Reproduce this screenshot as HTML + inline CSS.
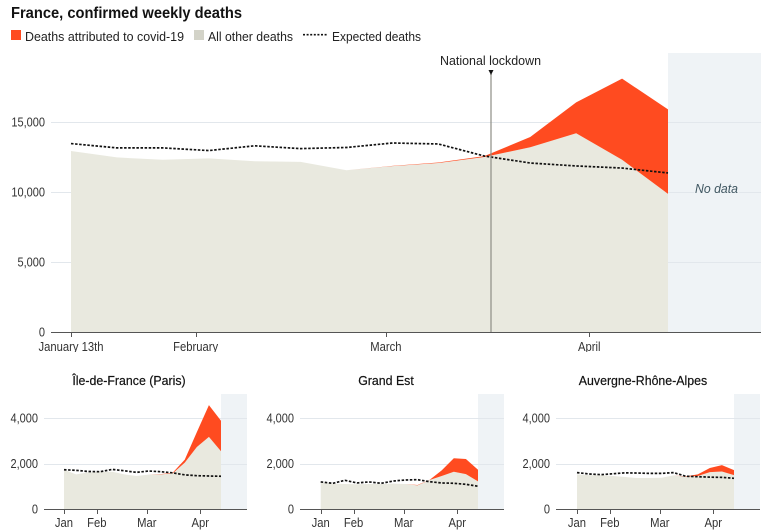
<!DOCTYPE html>
<html>
<head>
<meta charset="utf-8">
<title>France, confirmed weekly deaths</title>
<style>
html,body{margin:0;padding:0;background:#fff;width:772px;height:532px;overflow:hidden}
svg{display:block;font-family:"Liberation Sans",sans-serif}
</style>
</head>
<body>
<svg id="chart" xmlns="http://www.w3.org/2000/svg" width="772" height="532" viewBox="0 0 772 532">
  <defs><clipPath id="main-label-clip"><rect x="0" y="338" width="772" height="14"/></clipPath></defs>
  <text x="11" y="18" font-size="15.5" font-weight="bold" fill="#121212" textLength="231" lengthAdjust="spacingAndGlyphs">France, confirmed weekly deaths</text>
  <rect x="11" y="30" width="10" height="10" fill="#ff4b20"/>
  <text x="25" y="41" font-size="13" fill="#222" textLength="159" lengthAdjust="spacingAndGlyphs">Deaths attributed to covid-19</text>
  <rect x="194" y="30" width="10" height="10" fill="#d3d3c8"/>
  <text x="208" y="41" font-size="13" fill="#222" textLength="85" lengthAdjust="spacingAndGlyphs">All other deaths</text>
  <line x1="303" y1="34.7" x2="328" y2="34.7" stroke="#121212" stroke-width="1.7" stroke-dasharray="2 1.6"/>
  <text x="332" y="41" font-size="13" fill="#222" textLength="89" lengthAdjust="spacingAndGlyphs">Expected deaths</text>
  <g id="panels"></g>
  <rect x="490" y="74" width="2" height="258" fill="#8d8d85" opacity="0.6"/>
  <polygon points="488.5,70 493.5,70 491,75" fill="#121212"/>
  <text x="440" y="65" font-size="13" fill="#222" textLength="101" lengthAdjust="spacingAndGlyphs">National lockdown</text>
  <rect x="694" y="182" width="45" height="14" fill="#eff3f6"/>
  <text x="695" y="193" font-size="13" font-style="italic" fill="#3f5661" textLength="43" lengthAdjust="spacingAndGlyphs">No data</text>
</svg>
<script>
var weeks = 14;

var franceOther = [12930, 12470, 12300, 12400, 12200, 12150, 11550, 11850, 12070, 12500, 13200, 14200, 12300, 9870];
var franceTotal = [12930, 12470, 12300, 12400, 12200, 12150, 11550, 11870, 12110, 12560, 13930, 16400, 18100, 15900];
var franceExpected = [13460, 13150, 13150, 12960, 13300, 13100, 13180, 13500, 13430, 12570, 12070, 11860, 11710, 11360];

var parisOther = [1725, 1520, 1610, 1640, 1640, 1520, 1450, 1510, 1520, 1565, 2040, 2725, 3170, 2540];
var parisTotal = [1725, 1520, 1610, 1640, 1640, 1520, 1450, 1510, 1535, 1595, 2170, 3380, 4565, 3880];
var parisExpected = [1725, 1700, 1650, 1640, 1740, 1680, 1610, 1670, 1640, 1590, 1500, 1465, 1450, 1440];

var grandEstOther = [1170, 1115, 1100, 1090, 1100, 1100, 1115, 1100, 1040, 1275, 1450, 1640, 1535, 1215];
var grandEstTotal = [1170, 1115, 1100, 1090, 1100, 1100, 1115, 1100, 1055, 1280, 1700, 2230, 2200, 1725];
var grandEstExpected = [1190, 1130, 1260, 1145, 1190, 1130, 1230, 1275, 1290, 1200, 1145, 1130, 1085, 1000];

var auvergneOther = [1520, 1490, 1490, 1450, 1405, 1360, 1360, 1375, 1480, 1420, 1450, 1620, 1650, 1490];
var auvergneTotal = [1520, 1490, 1490, 1450, 1405, 1360, 1360, 1375, 1480, 1435, 1520, 1800, 1930, 1710];
var auvergneExpected = [1600, 1540, 1510, 1550, 1590, 1580, 1565, 1565, 1600, 1440, 1420, 1400, 1390, 1350];

var mainYTicks = [0, 5000, 10000, 15000];
var smallYTicks = [0, 2000, 4000];
var mainXTickLabels = ["January 13th", "February", "March", "April"];
var mainXTickDays = [0, 19, 48, 79];
var smallXTickLabels = ["Jan", "Feb", "Mar", "Apr"];
var smallXTickDays = [0, 19, 48, 79];

var NS = "http://www.w3.org/2000/svg";
var root = document.getElementById("panels");

function make(parent, tag, attrs) {
  var el = document.createElementNS(NS, tag);
  for (var k in attrs) el.setAttribute(k, attrs[k]);
  parent.appendChild(el);
  return el;
}

function squeeze(t, ratio) {
  t.setAttribute("textLength", t.getComputedTextLength() * ratio);
  t.setAttribute("lengthAdjust", "spacingAndGlyphs");
}

function drawPanel(cfg) {
  var g = make(root, "g", {});
  
  

  function x(week) { return cfg.x0 + (cfg.x1 - cfg.x0) * week / (weeks - 1); }
  function xDay(day) { return x(day / 7); }
  function y(v) { return cfg.yBase - v * cfg.yScale; }
  function pts(arr) { return arr.map(function (v, i) { return x(i) + "," + y(v); }); }
  function area(arr) { return x(0) + "," + y(0) + " " + pts(arr).join(" ") + " " + x(weeks - 1) + "," + y(0); }

  var noData = make(g, "rect", { x: cfg.x1, y: cfg.top, width: cfg.right - cfg.x1, height: cfg.yBase - cfg.top, fill: "#eff3f6" });
  
  

  cfg.yTicks.forEach(function (v) {
    if (v !== 0) {
      var grid = make(g, "rect", { x: cfg.left, width: cfg.right - cfg.left, y: Math.round(y(v)), height: 1, fill: "#e2e7ec" });
      
      
    }
    var lab = make(g, "text", { x: cfg.left - 6, y: y(v) + 4.5, "text-anchor": "end", "font-size": 12.5, fill: "#333" });
    lab.textContent = v.toLocaleString("en-US");
    
    
    squeeze(lab, 0.88);
  });

  var other = make(g, "polygon", { points: area(cfg.other), fill: "#e9e9df" });
  
  

  var band = pts(cfg.total).concat(pts(cfg.other).reverse()).join(" ");
  var covid = make(g, "polygon", { points: band, fill: "#ff4b20" });
  
  

  var exp = make(g, "polyline", { points: pts(cfg.expected).join(" "), fill: "none", stroke: "#121212", "stroke-width": 1.7, "stroke-dasharray": "2.5 1.6" });
  
  

  var axis = make(g, "rect", { x: cfg.left, width: cfg.right - cfg.left, y: cfg.yBase, height: 1, fill: "#555" });
  
  

  cfg.xDays.forEach(function (d, i) {
    var tick = make(g, "rect", { x: Math.round(xDay(d)), width: 1, y: cfg.yBase, height: 5, fill: "#555" });
    
    
    var lab = make(g, "text", { x: xDay(d), y: cfg.yBase + cfg.xLabelOffset, "text-anchor": "middle", "font-size": 12.5, fill: "#333" });
    lab.textContent = cfg.xLabels[i];
    
    
    if (cfg.clip) lab.setAttribute("clip-path", "url(#" + cfg.clip + ")");
    squeeze(lab, 0.9);
  });

  if (cfg.title) {
    var title = make(g, "text", { x: cfg.titleX, y: cfg.titleY, "text-anchor": "middle", "font-size": 13, fill: "#121212", stroke: "#121212", "stroke-width": 0.2 });
    title.textContent = cfg.title;
    
    
    squeeze(title, 0.95);
  }
}

drawPanel({ name: "france-panel", left: 51, right: 761, x0: 71, x1: 668, top: 53, yBase: 332, yScale: 0.014,
  other: franceOther, total: franceTotal, expected: franceExpected,
  yTicks: mainYTicks, xDays: mainXTickDays, xLabels: mainXTickLabels, xLabelOffset: 19, clip: "main-label-clip" });

var smallCommon = { top: 394, yBase: 509, yScale: 0.02275, yTicks: smallYTicks, xDays: smallXTickDays, xLabels: smallXTickLabels, xLabelOffset: 18, titleY: 385 };

function small(extra) {
  var c = {};
  for (var k in smallCommon) c[k] = smallCommon[k];
  for (var m in extra) c[m] = extra[m];
  return c;
}

drawPanel(small({ name: "ile-de-france-panel", title: "Île-de-France (Paris)", titleX: 129, left: 44, right: 247, x0: 64, x1: 221,
  other: parisOther, total: parisTotal, expected: parisExpected }));
drawPanel(small({ name: "grand-est-panel", title: "Grand Est", titleX: 386, left: 300, right: 504, x0: 320.7, x1: 478,
  other: grandEstOther, total: grandEstTotal, expected: grandEstExpected }));
drawPanel(small({ name: "auvergne-rhone-alpes-panel", title: "Auvergne-Rhône-Alpes", titleX: 643, left: 556, right: 760, x0: 577, x1: 734,
  other: auvergneOther, total: auvergneTotal, expected: auvergneExpected }));
</script>
</body>
</html>
